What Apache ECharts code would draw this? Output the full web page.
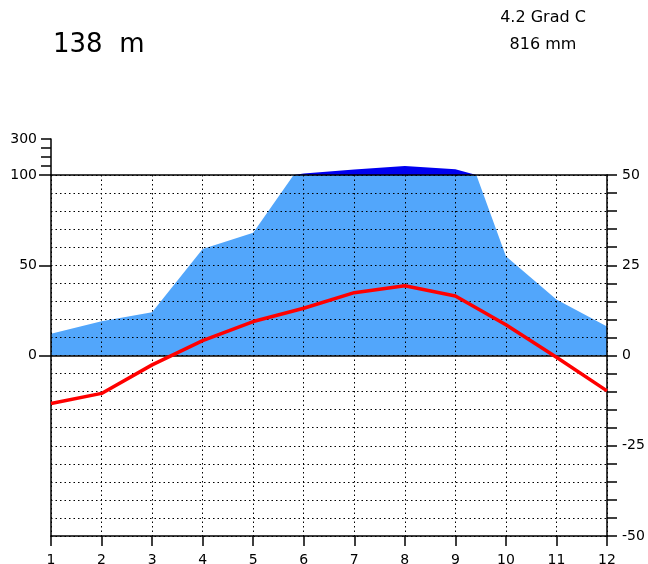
<!DOCTYPE html>
<html>
<head>
<meta charset="utf-8">
<script src="https://cdn.jsdelivr.net/npm/echarts@6/dist/echarts.min.js"></script>
<style>
  html, body { margin: 0; padding: 0; background: #fff; }
  #chart { width: 648px; height: 564px; }
</style>
</head>
<body>
<div id="chart"></div>
<script>
const months = [1, 2, 3, 4, 5, 6, 7, 8, 9, 10, 11, 12];
// monthly precipitation (mm) and mean temperature (deg C)
const precip = [12, 19, 24, 59, 68, 108, 130, 150, 132, 55, 31, 16];
const temp = [-13.3, -10.5, -2.6, 4.1, 9.4, 13.1, 17.4, 19.3, 16.5, 8.5, -0.5, -9.8];

const precipTicks = [0, 50, 100];
const precipHighLabels = [300];
const tempLabels = [-50, -25, 0, 25, 50];

const station = "138  m";
const meanTemp = "4.2 Grad C";
const sumPrecip = "816 mm";

const font = "DejaVu Sans";
const black = "#000";
const dotted = { color: black, width: 1, type: [1.5, 3] };

const chart = echarts.init(document.getElementById("chart"));

const option = {
    animation: false,
    backgroundColor: "#fff",
    textStyle: { fontFamily: font, color: black },
    graphic: [
        { type: "text", left: 53, top: 32, style: { text: station, font: "26px " + font, fill: black } },
        { type: "text", x: 543, y: 10, style: { text: meanTemp, font: "16px " + font, fill: black, align: "center", verticalAlign: "top" } },
        { type: "text", x: 543, y: 37, style: { text: sumPrecip, font: "16px " + font, fill: black, align: "center", verticalAlign: "top" } }
    ],
    grid: [
        { left: 51, right: 41, top: 175, bottom: 28, outerBoundsMode: "none", containLabel: false },
        { left: 51, right: 41, top: 139, height: 36, outerBoundsMode: "none", containLabel: false }
    ],
    xAxis: [
        {
            gridIndex: 0, type: "value", min: 1, max: 12, interval: 1, position: "bottom", z: 3,
            axisLine: { onZero: false, lineStyle: { color: black, width: 1.5 } },
            axisTick: { length: 10, lineStyle: { color: black, width: 1.5 } },
            axisLabel: { margin: 17, fontSize: 14, fontFamily: font, color: black },
            splitLine: { show: true, lineStyle: dotted }
        },
        {
            gridIndex: 0, type: "value", min: 1, max: 12, position: "top", z: 3,
            axisLine: { show: true, onZero: false, lineStyle: { color: black, width: 1.5 } },
            axisTick: { show: false }, axisLabel: { show: false }, splitLine: { show: false }
        },
        { gridIndex: 1, type: "value", min: 1, max: 12, show: false }
    ],
    yAxis: [
        {
            gridIndex: 0, type: "value", min: -100, max: 100, interval: 50, position: "left", z: 3,
            axisLine: { show: true, onZero: false, lineStyle: { color: black, width: 1.5 } },
            axisTick: { show: true, length: 12, customValues: precipTicks, lineStyle: { color: black, width: 1.5 } },
            axisLabel: { customValues: precipTicks, margin: 14, fontSize: 14, fontFamily: font, color: black },
            splitLine: { show: false }
        },
        {
            gridIndex: 0, type: "value", min: -50, max: 50, interval: 5, position: "right", z: 3,
            axisLine: { show: true, onZero: false, lineStyle: { color: black, width: 1.5 } },
            axisTick: { show: true, length: 10, lineStyle: { color: black, width: 1.5 } },
            axisLabel: {
                margin: 15, fontSize: 14, fontFamily: font, color: black,
                formatter: v => tempLabels.includes(v) ? String(v) : ""
            },
            splitLine: { show: true, lineStyle: dotted }
        },
        {
            gridIndex: 1, type: "value", min: 100, max: 300, interval: 50, position: "left", z: 3,
            axisLine: { show: true, onZero: false, lineStyle: { color: black, width: 1.5 } },
            axisTick: { show: true, length: 10, lineStyle: { color: black, width: 1.5 } },
            axisLabel: { customValues: precipHighLabels, margin: 14, fontSize: 14, fontFamily: font, color: black },
            splitLine: { show: false }
        }
    ],
    series: [
        {
            name: "precip",
            type: "line",
            xAxisIndex: 0,
            yAxisIndex: 0,
            data: months.map((m, i) => [m, precip[i]]),
            symbol: "none",
            silent: true,
            z: 2,
            lineStyle: { width: 0 },
            areaStyle: { color: "#52a6fb", opacity: 1 },
            markLine: {
                symbol: "none",
                silent: true,
                label: { show: false },
                lineStyle: { color: black, type: "solid", width: 1.5 },
                data: [{ yAxis: 0 }]
            }
        },
        {
            name: "precip > 100",
            type: "line",
            xAxisIndex: 2,
            yAxisIndex: 2,
            data: months.map((m, i) => [m, precip[i]]),
            symbol: "none",
            silent: true,
            z: 2,
            lineStyle: { width: 0 },
            areaStyle: { color: "#0000f0", opacity: 1, origin: "start" }
        },
        {
            name: "temp",
            type: "line",
            xAxisIndex: 0,
            yAxisIndex: 1,
            data: months.map((m, i) => [m, temp[i]]),
            symbol: "none",
            silent: true,
            z: 5,
            lineStyle: { color: "#ff0000", width: 3.5 }
        }
    ]
};

chart.setOption(option);
</script>
</body>
</html>
